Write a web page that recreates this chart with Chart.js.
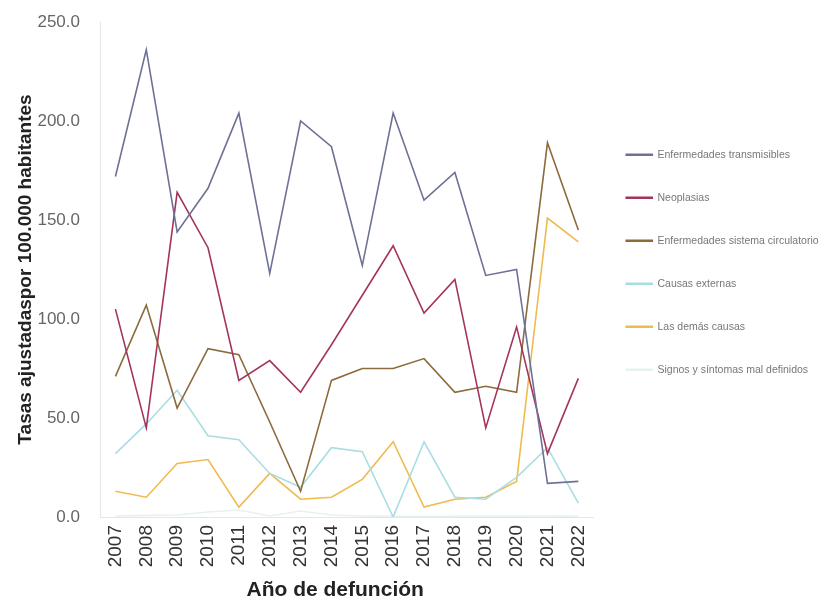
<!DOCTYPE html>
<html lang="es">
<head>
    <meta charset="UTF-8">
    <title>Tasas ajustadas por grupo de causas</title>
    <style>
        body { margin: 0; background: #fff; }
        #wrap { width: 821px; height: 600px; }
    </style>
</head>
<body>
    <div id="wrap"><canvas id="myChart" width="821" height="600"></canvas></div>

    <script src="https://cdn.jsdelivr.net/npm/chart.js"></script>
    <script>
        // años y series
        const years = ['2007', '2008', '2009', '2010', '2011', '2012', '2013', '2014',
                       '2015', '2016', '2017', '2018', '2019', '2020', '2021', '2022'];

        const transmisibles = [172, 236, 144, 166, 204, 123, 200, 187, 127, 204, 160, 174, 122, 125, 17, 18];
        const neoplasias    = [105, 45, 164, 136, 69, 79, 63, 87, 112, 137, 103, 120, 45, 96, 32, 70];
        const circulatorio  = [71, 107, 55, 85, 82, 48, 13, 69, 75, 75, 80, 63, 66, 63, 189, 145];
        const externas      = [32, 47, 64, 41, 39, 22, 15, 35, 33, 0, 38, 10, 9, 20, 35, 7];
        const demas         = [13, 10, 27, 29, 5, 22, 9, 10, 19, 38, 5, 9, 10, 18, 151, 139];
        const signos        = [0.5, 0.8, 1, 2.5, 3.5, 0.5, 3, 1, 0.5, 0.3, 0.2, 0.3, 0.3, 0.4, 0.5, 0.3];

        const yTicks = [0, 50, 100, 150, 200, 250];

        function serie(label, data, color) {
            return {
                label: label,
                data: data,
                borderColor: color,
                backgroundColor: color,
                borderWidth: 1.6,
                pointRadius: 0,
                tension: 0
            };
        }

        // la leyenda de la derecha queda limitada a 1/4 del ancho; la estiramos hasta el borde
        const legendWiden = {
            id: 'legendWiden',
            afterLayout(chart) {
                const lg = chart.legend;
                lg.right = chart.width;
                lg.width = lg.right - lg.left;
            }
        };

        const ctx = document.getElementById('myChart').getContext('2d');
        const myChart = new Chart(ctx, {
            type: 'line',
            data: {
                labels: years,
                datasets: [
                    serie('Enfermedades transmisibles', transmisibles, '#6e7196'),
                    serie('Neoplasias', neoplasias, '#a3345e'),
                    serie('Enfermedades sistema circulatorio', circulatorio, '#8c6b3c'),
                    serie('Causas externas', externas, '#a9dde2'),
                    serie('Las demás causas', demas, '#f0bb4e'),
                    serie('Signos y síntomas mal definidos', signos, '#e6f2f0')
                ]
            },
            plugins: [legendWiden],
            options: {
                responsive: false,
                animation: false,
                layout: { padding: { top: 22, left: 14, right: 34, bottom: 0 } },
                plugins: {
                    legend: {
                        position: 'right',
                        align: 'start',
                        // título vacío: solo empuja los elementos hacia abajo
                        title: {
                            display: true,
                            text: '',
                            padding: { top: 83, bottom: 0 },
                            font: { size: 10 }
                        },
                        labels: {
                            boxWidth: 26,
                            boxHeight: 1,
                            padding: 32.5,
                            color: '#777',
                            font: { family: 'Liberation Sans', size: 10.5 }
                        }
                    },
                    tooltip: { enabled: false }
                },
                scales: {
                    x: {
                        offset: true,
                        grid: { display: false, drawTicks: false },
                        border: { display: true, color: '#e6e6e6' },
                        afterFit: axis => { axis.height = 83; },
                        ticks: {
                            minRotation: 90,
                            maxRotation: 90,
                            padding: 8,
                            color: '#333',
                            font: { family: 'Liberation Sans', size: 19 }
                        },
                        title: {
                            display: true,
                            text: 'Año de defunción    ',
                            color: '#222',
                            padding: { top: 0, bottom: -3 },
                            font: { family: 'Liberation Sans', size: 21, weight: 'bold' }
                        }
                    },
                    y: {
                        min: 0,
                        max: 250,
                        afterBuildTicks: axis => {
                            axis.ticks = yTicks.map(v => ({ value: v }));
                        },
                        afterFit: axis => {
                            axis.width = 86;
                            axis.paddingTop = 10;
                            axis.paddingBottom = 10;
                        },
                        grid: { display: false, drawTicks: false },
                        border: { display: true, color: '#e6e6e6' },
                        ticks: {
                            color: '#666',
                            padding: 20,
                            font: { family: 'Liberation Sans', size: 17 },
                            callback: v => v.toFixed(1)
                        },
                        title: {
                            display: true,
                            text: 'Tasas ajustadaspor 100.000 habitantes',
                            color: '#222',
                            padding: { top: 0, bottom: 0 },
                            font: { family: 'Liberation Sans', size: 19, weight: 'bold' }
                        }
                    }
                }
            }
        });
    </script>
</body>
</html>
